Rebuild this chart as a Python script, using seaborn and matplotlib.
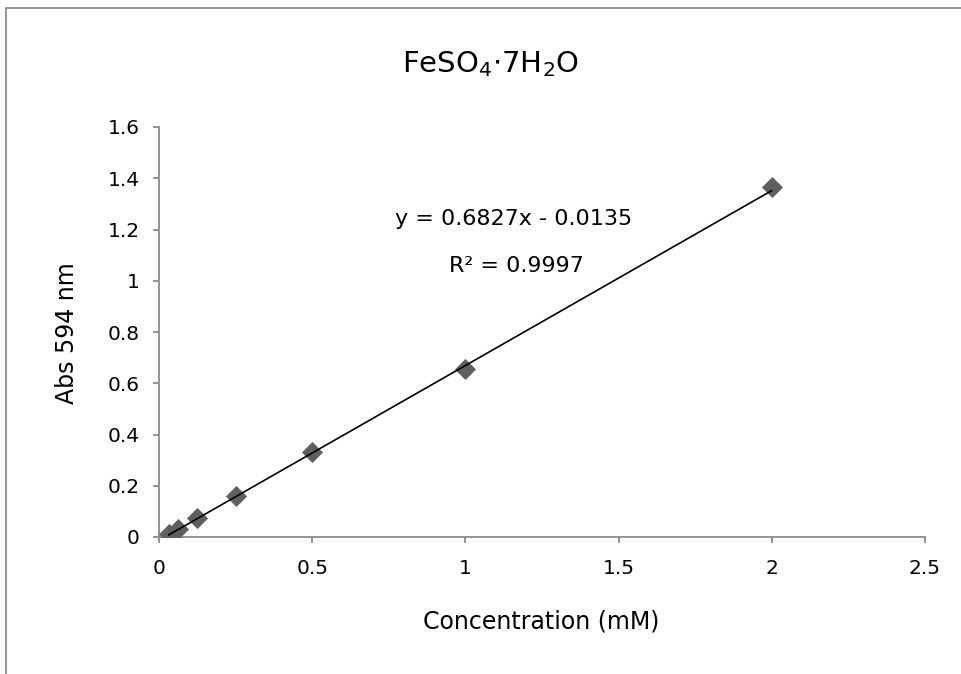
import numpy as np
import pandas as pd
import matplotlib
matplotlib.use("Agg")
import matplotlib.pyplot as plt
import seaborn as sns
from matplotlib.lines import Line2D

# Data
concentration = [0.03125, 0.0625, 0.125, 0.25, 0.5, 1.0, 2.0]
absorbance = [0.012, 0.032, 0.075, 0.160, 0.332, 0.654, 1.364]
slope = 0.6827
intercept = -0.0135
r_squared = 0.9997
x_ticks = [0, 0.5, 1, 1.5, 2, 2.5]
x_tick_labels = ["0", "0.5", "1", "1.5", "2", "2.5"]
y_ticks = [0, 0.2, 0.4, 0.6, 0.8, 1.0, 1.2, 1.4, 1.6]
y_tick_labels = ["0", "0.2", "0.4", "0.6", "0.8", "1", "1.2", "1.4", "1.6"]

sns.set_theme(style="white")
plt.rcParams['font.family'] = ['DejaVu Sans']
plt.rcParams['mathtext.default'] = 'regular'
plt.rcParams['text.color'] = 'black'
plt.rcParams['axes.labelcolor'] = 'black'

W, H = 962, 674
fig = plt.figure(figsize=(W / 100, H / 100), dpi=100)
ax = fig.add_axes([159 / W, 1 - 537 / H, (925 - 159) / W, (537 - 127) / H])

df = pd.DataFrame({"x": concentration, "y": absorbance})
fit_x = np.array([min(concentration), max(concentration)])
fit_df = pd.DataFrame({"x": fit_x, "y": slope * fit_x + intercept})

sns.scatterplot(data=df, x="x", y="y", marker="D", s=105, color="#5f5f5f",
                edgecolor="#5f5f5f", linewidth=0.5, ax=ax, zorder=3)
sns.lineplot(data=fit_df, x="x", y="y", color="black", linewidth=1.2, ax=ax, zorder=4)

ax.set_xlim(0, 2.5)
ax.set_ylim(0, 1.6)
ax.set_xticks(x_ticks)
ax.set_xticklabels(x_tick_labels)
ax.set_yticks(y_ticks)
ax.set_yticklabels(y_tick_labels)

gray = "#8a8a8a"
for side in ["top", "right"]:
    ax.spines[side].set_visible(False)
for side in ["left", "bottom"]:
    ax.spines[side].set_color(gray)
    ax.spines[side].set_linewidth(1.3)
ax.tick_params(axis="both", which="major", bottom=True, left=True, direction="out",
               length=4.5, width=1.3, color=gray, labelsize=14.5, labelcolor="black")
ax.tick_params(axis="x", pad=11)
ax.tick_params(axis="y", pad=9.5)

ax.set_xlabel("Concentration (mM)", fontsize=17, color="black")
ax.set_ylabel("Abs 594 nm", fontsize=17, color="black")
ax.xaxis.set_label_coords((541 - 159) / 766, (537 - 622) / 410)
ax.xaxis.label.set_va("center")
ax.yaxis.set_label_coords((67 - 159) / 766, (537 - 333) / 410)
ax.yaxis.label.set_va("center")

fig.text(491 / W, 1 - 72 / H, r"$\mathregular{FeSO_4{\cdot}7H_2O}$", ha="center",
         va="baseline", fontsize=21, color="black")

ax.text(514 / W, 1 - 225 / H, f"y = {slope}x - {abs(intercept)}", transform=fig.transFigure,
        ha="center", va="baseline", fontsize=16, color="black")
ax.text(516 / W, 1 - 272 / H, f"R² = {r_squared}", transform=fig.transFigure,
        ha="center", va="baseline", fontsize=16, color="black")

# Outer chart frame (partially visible)
fig.add_artist(Line2D([5.5 / W, 1.0], [1 - 7.5 / H, 1 - 7.5 / H], transform=fig.transFigure,
                      color="#8c8c8c", linewidth=1.3))
fig.add_artist(Line2D([5.5 / W, 5.5 / W], [0.0, 1 - 7.5 / H], transform=fig.transFigure,
                      color="#8c8c8c", linewidth=1.3))

fig.savefig("out.png", dpi=100)
